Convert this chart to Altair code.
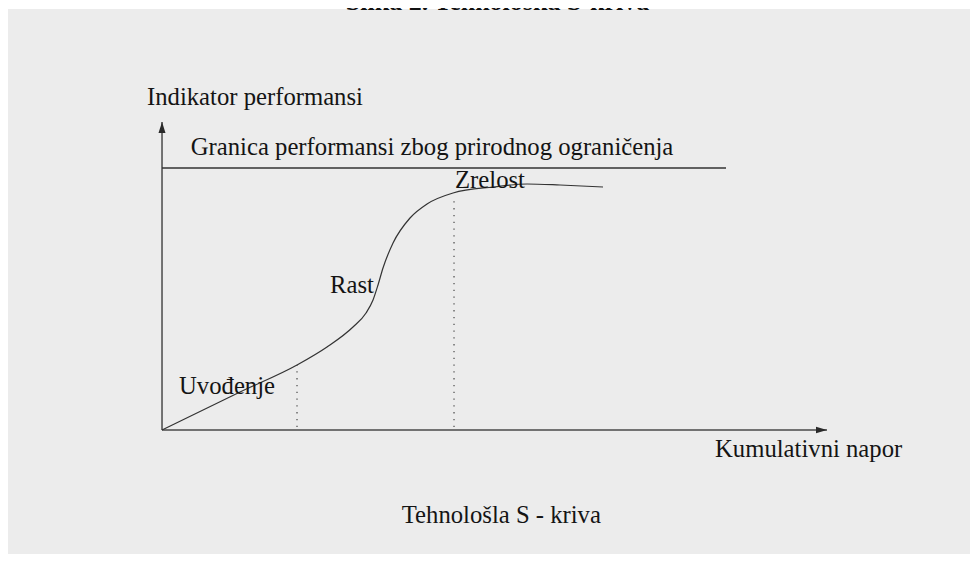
import altair as alt
import pandas as pd

# ---- data (units: effort 0..100 along x arrow, performance 0..100 along y arrow) ----
effort = [0, 11.73, 20.30, 24.81, 28.72, 30.68, 31.73, 32.48, 33.23, 34.74,
          37.29, 39.85, 43.76, 49.77, 54.89, 59.85, 66.32]
performance = [0, 12.34, 21.10, 26.95, 33.44, 37.99, 42.21, 47.08, 52.60, 60.71,
               68.83, 73.38, 76.95, 78.90, 79.87, 79.55, 78.90]

limit_level = 85.06      # "Granica performansi" horizontal line
limit_end = 84.81
phase_x = [20.30, 43.91]  # dotted phase boundaries
phase_top = [21.10, 75.3]
phase_bottom = 0.97
axis_end = 100

labels = ["Indikator performansi",
          "Granica performansi zbog prirodnog ograničenja",
          "Zrelost", "Rast", "Uvođenje",
          "Kumulativni napor", "Tehnološla S - kriva"]
label_x = [-2.26, 4.32, 44.06, 25.26, 2.56, 83.16, 36.05]
label_y = [105.5, 89.29, 78.57, 44.48, 11.69, -8.77, -30.29]

title_text = ["Slika 2.  Tehnološka S-kriva"]
title_x = [50.45]
title_y = [136.36]

# ---- layout ----
W, H = 962, 546
XS = alt.Scale(domain=[-23.16, 121.50], nice=False, zero=False)
YS = alt.Scale(domain=[-40.26, 137.01], nice=False, zero=False)
FONT = "Liberation Serif"
INK = "#141414"

def X(field):
    return alt.X(field, type="quantitative", scale=XS, axis=None)

def Y(field):
    return alt.Y(field, type="quantitative", scale=YS, axis=None)

bg = alt.Chart(alt.Data(values=[{"a": 1}])).mark_rect(color="#ececec").encode(
    x=alt.value(-1), x2=alt.value(W + 8), y=alt.value(1), y2=alt.value(H + 8)
)

curve_df = pd.DataFrame({"x": effort, "y": performance})
curve = alt.Chart(curve_df).mark_line(
    color="#333333", strokeWidth=1.2, interpolate="monotone"
).encode(x=X("x"), y=Y("y"))

axes_df = pd.DataFrame({
    "x": [0, 0], "y": [0, 0],
    "x2": [0, axis_end], "y2": [axis_end, 0],
})
axes = alt.Chart(axes_df).mark_rule(color="#4a4a4a", strokeWidth=1.5).encode(
    x=X("x"), y=Y("y"), x2="x2", y2="y2"
)

arrow_up = alt.Chart(pd.DataFrame({"x": [0], "y": [axis_end]})).mark_point(
    shape="M0,0L-0.32,1L0.32,1Z", size=484, filled=True, opacity=1,
    color="#2a2a2a", strokeWidth=0
).encode(x=X("x"), y=Y("y"))

arrow_right = alt.Chart(pd.DataFrame({"x": [axis_end], "y": [0]})).mark_point(
    shape="M0,0L-1,-0.3L-1,0.3Z", size=484, filled=True, opacity=1,
    color="#2a2a2a", strokeWidth=0
).encode(x=X("x"), y=Y("y"))

limit_df = pd.DataFrame({"x": [0], "x2": [limit_end], "y": [limit_level]})
limit = alt.Chart(limit_df).mark_rule(color="#333333", strokeWidth=1.3).encode(
    x=X("x"), x2="x2", y=Y("y")
)

phase_df = pd.DataFrame({"x": phase_x, "y": [phase_bottom] * 2, "y2": phase_top})
phases = alt.Chart(phase_df).mark_rule(
    color="#555555", strokeWidth=1.3, strokeDash=[1.3, 5.5]
).encode(x=X("x"), y=Y("y"), y2="y2")

label_df = pd.DataFrame({"label": labels, "x": label_x, "y": label_y})
texts = alt.Chart(label_df).mark_text(
    font=FONT, fontSize=24.7, color=INK, align="left", baseline="alphabetic"
).encode(x=X("x"), y=Y("y"), text="label")

title_df = pd.DataFrame({"label": title_text, "x": title_x, "y": title_y})
title = alt.Chart(title_df).mark_text(
    font=FONT, fontSize=26, fontWeight="bold", color="#111111",
    align="center", baseline="alphabetic"
).encode(x=X("x"), y=Y("y"), text="label")

chart = alt.layer(
    bg, axes, limit, phases, curve, arrow_up, arrow_right, texts, title
).properties(
    width=W, height=H, padding=0,
    autosize=alt.AutoSizeParams(type="none"),
    background="white",
).configure_view(stroke=None)

chart.save("out.html", embed_options={"renderer": "svg", "actions": False})
